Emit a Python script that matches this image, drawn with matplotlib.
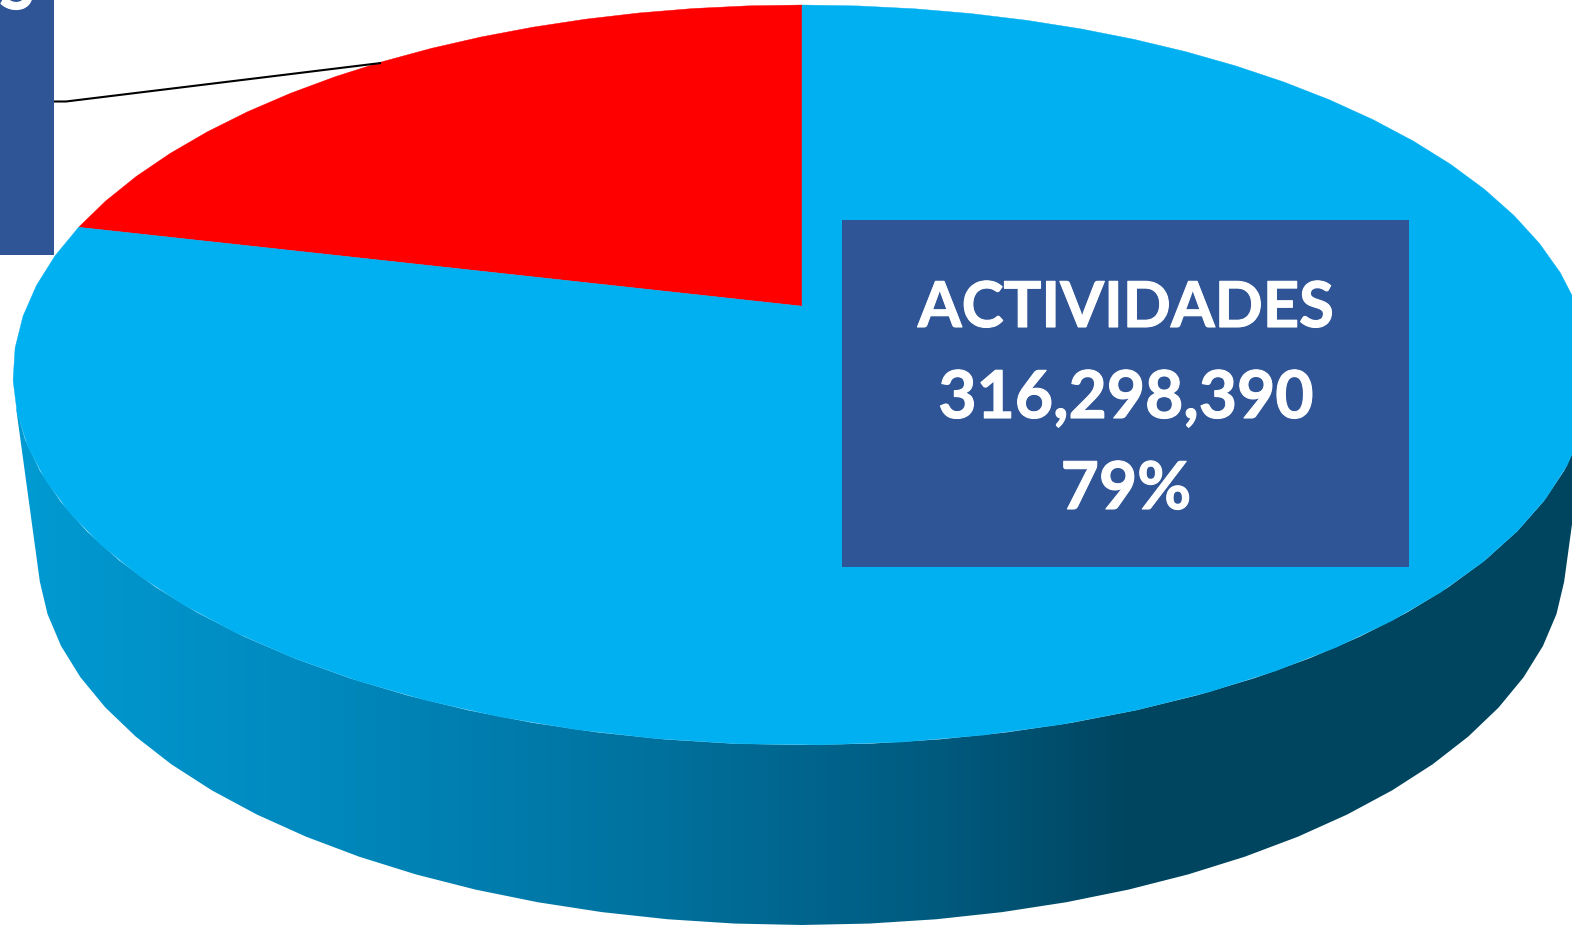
import numpy as np
import matplotlib
matplotlib.use("Agg")
import matplotlib.pyplot as plt
import matplotlib.patheffects as pe
from matplotlib.colors import LinearSegmentedColormap
from matplotlib.patches import Polygon, Rectangle

# --- data ---
categories = ["ACTIVIDADES", "OTROS"]
shares = [78.7, 21.3]
label_lines = ["ACTIVIDADES", "316,298,390", "79%"]
hidden_label = "S"

# --- geometry in pixels of the picture ---
W, H = 1572, 925
cx = 802
top_cy, top_a, top_b = 375, 789, 370
low_cy, low_a, low_b = 556, 764, 369
tilt = 0.186  # perspective shift of the pie centre
seg_deg = 5   # the rim is faceted in the original

plt.rcParams['font.family'] = ['Lato', 'DejaVu Sans']


def rim(theta):
    # theta is clockwise from 12 o'clock on the flat pie, mapped through the perspective
    x = np.sin(theta)
    y = np.cos(theta)
    d = 1 + tilt * y
    return cx + top_a * x * np.sqrt(1 - tilt**2) / d, top_cy - top_b * (y + tilt) / d


fig = plt.figure(figsize=(W / 100, H / 100), dpi=100)
ax = fig.add_axes([0, 0, 1, 1])
ax.set_xlim(0, W)
ax.set_ylim(H, 0)
ax.axis('off')

# side wall with the horizontal gradient
t = np.radians(np.linspace(-85, 85, 35))
t_low = np.radians(np.linspace(86, -86, 35))
upper_x = cx + top_a * np.sin(t)
upper_y = top_cy + top_b * np.cos(t)
lower_x = cx + low_a * np.sin(t_low)
lower_y = low_cy + low_b * np.cos(t_low)
side = Polygon(np.column_stack([np.r_[upper_x, lower_x], np.r_[upper_y, lower_y]]),
               closed=True, fc='none', ec='none')
ax.add_patch(side)
cmap = LinearSegmentedColormap.from_list('side', [
    (0.0, '#009BD3'), (0.2, '#0089BE'), (0.4, '#0073A0'),
    (0.6, '#005A7E'), (0.72, '#004560'), (1.0, '#004560')])
img = ax.imshow(np.linspace(0, 1, 512)[None, :], cmap=cmap, extent=[0, W, H, 0],
                aspect='auto', zorder=1)
img.set_clip_path(side)
ax.set_xlim(0, W)
ax.set_ylim(H, 0)

# top face, one slice per share, going counter-clockwise from 12 o'clock
slice_colors = ['#00B0F0', '#FF0000']
apex = (cx, top_cy - top_b * tilt)
start = 0.0
ends = np.cumsum(shares[::-1]) / np.sum(shares) * 2 * np.pi
for share_end, col in zip(ends, slice_colors[::-1]):
    n = int(np.degrees(share_end - start) / seg_deg) + 2
    th = -np.linspace(start, share_end, n)
    xs, ys = rim(th)
    pts = np.column_stack([np.r_[apex[0], xs], np.r_[apex[1], ys]])
    ax.add_patch(Polygon(pts, closed=True, fc=col, ec=col, lw=0.3, zorder=2))
    start = share_end

# label boxes
box_color = '#2F5597'
ax.add_patch(Rectangle((842, 220), 567, 347, fc=box_color, ec='none', zorder=3))
ax.add_patch(Rectangle((0, 0), 54, 255, fc=box_color, ec='none', zorder=3))

baselines = [327, 418, 509]
sizes = [45.5, 47.5, 47.5]
heavy = [pe.withStroke(linewidth=0.8, foreground='white')]
for line, yb, fs in zip(label_lines, baselines, sizes):
    ax.text(1126, yb, line, color='white', fontsize=fs, fontweight='bold',
            ha='center', va='baseline', zorder=4, path_effects=heavy)
# cut off label of the other slice, only its bottom is in the picture
ax.text(17, 9, hidden_label, color='white', fontsize=46, fontweight='bold',
        ha='center', va='baseline', zorder=4, clip_on=True, path_effects=heavy)

# leader line
ax.plot([54, 66, 381], [101.5, 101.5, 63], color='black', lw=1.5, zorder=3,
        solid_capstyle='butt')

fig.savefig('out.png', dpi=100)
